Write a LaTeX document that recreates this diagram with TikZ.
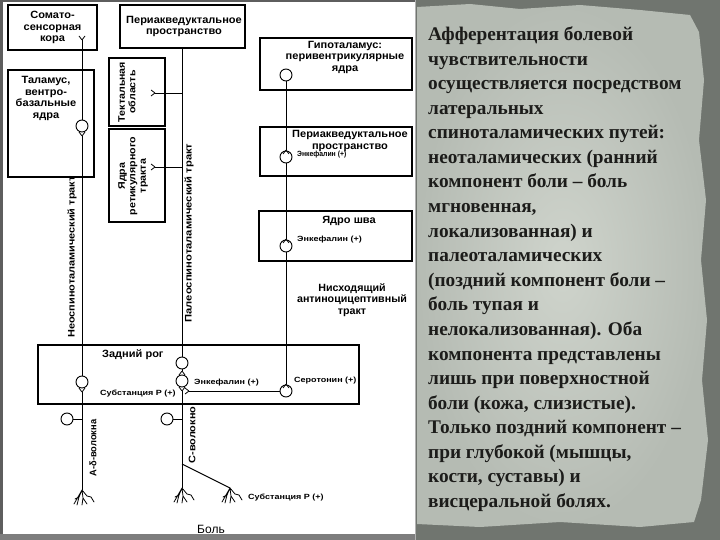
\documentclass[tikz,border=0pt]{standalone}
\usepackage{fontspec}
\setmainfont{Liberation Serif}
\newfontfamily\dia{Liberation Sans}
\definecolor{bgdark}{HTML}{70756F}
\definecolor{paperin}{HTML}{CFD4CC}
\definecolor{paperout}{HTML}{B5BBB3}
\definecolor{ink}{HTML}{1C1C1A}
\definecolor{frame}{HTML}{5E5E5E}
\tikzset{
  box/.style={draw, line width=1.3pt, inner sep=0pt},
  boxtxt/.style={font=\dia\bfseries\fontsize{10.5}{11.5}\selectfont, align=center, inner sep=0pt, xscale=1.05},
  rottxt/.style={font=\dia\bfseries\fontsize{9.5}{10.5}\selectfont, align=center, inner sep=0pt, rotate=90},
  lbl/.style={font=\dia\bfseries\fontsize{7.5}{8}\selectfont, inner sep=0pt, anchor=west, xscale=1.2},
  cell/.style={draw, circle, minimum size=12pt, inner sep=0pt, line width=0.9pt, fill=white},
  fib/.style={line width=0.9pt},
  para/.style={font=\bfseries\fontsize{19.3}{22}\selectfont, text=ink, inner sep=0pt, anchor=base west},
  forkup/.pic={\draw[line width=0.8pt] (0,0) -- (-3,-4) (0,0) -- (3,-4);},
  forkdown/.pic={\draw[line width=0.8pt] (0,0) -- (-3,4) (0,0) -- (3,4);},
  forkleft/.pic={\draw[line width=0.8pt] (0,0) -- (-4,-3) (0,0) -- (-4,3);},
  ending/.pic={\draw[line width=0.8pt, line cap=round]
     (0,0) -- (-8,14) (0,0) -- (-3,7) -- (-5,15) (0,0) -- (1,8) -- (0,15)
     (1,8) -- (5,14) (0,0) -- (5,6) -- (9,7) -- (12,12) (-3,7) -- (-7,9);}
}
\begin{document}
\begin{tikzpicture}[x=1pt,y=-1pt]
\useasboundingbox (0,0) rectangle (720,540);
% ---------- right panel background ----------
\fill[bgdark] (415,0) rectangle (720,540);
\shade[inner color=paperin, outer color=paperout]
  (417,7) -- (470,4) -- (520,9) -- (580,5) -- (640,10) -- (690,15) -- (699,32) -- (704,80)
  -- (699,140) -- (706,200) -- (701,260) -- (707,320) -- (702,380) -- (708,440)
  -- (701,500) -- (694,522) -- (640,527) -- (560,522) -- (480,527) -- (417,524) -- cycle;
% ---------- left panel ----------
\fill[white] (3,2) rectangle (415,534);
\fill[frame] (0,0) rectangle (3,540);
\fill[frame] (0,0) rectangle (415,2);
\fill[frame!80] (0,534) rectangle (415,540);
\draw[gray!60, line width=0.8pt] (415.5,0) -- (415.5,540);
% ---------- boxes ----------
\node[box, minimum width=89pt, minimum height=45pt] (cortex) at (52.5,27.5) {};
\node[boxtxt] (cortext) at (52.5,27.5) {Сомато-\\сенсорная\\кора};
\node[box, minimum width=86pt, minimum height=107pt] (thal) at (51,123.5) {};
\node[boxtxt] (thaltext) at (46,98.5) {Таламус,\\вентро-\\базальные\\ядра};
\node[box, minimum width=125pt, minimum height=43pt] (pagtop) at (182.5,26.5) {};
\node[boxtxt] (pagtoptext) at (184,26.5) {Периакведуктальное\\пространство};
\node[box, minimum width=56pt, minimum height=68pt] (tect) at (137,92) {};
\node[rottxt, xscale=1.12] (tecttext) at (127,92) {Тектальная\\область};
\node[box, minimum width=56pt, minimum height=93pt] (ret) at (137,175.5) {};
\node[rottxt, xscale=1.12] (rettext) at (133,176) {Ядра\\ретикулярного\\тракта};
\node[box, minimum width=152pt, minimum height=52pt] (hyp) at (336,64) {};
\node[boxtxt] (hyptext) at (345,57) {Гипоталамус:\\перивентрикулярные\\ядра};
\node[box, minimum width=152pt, minimum height=49pt] (pag) at (336,151.5) {};
\node[boxtxt] (pagtext) at (350,141) {Периакведуктальное\\пространство};
\node[box, minimum width=153pt, minimum height=50pt] (raphe) at (335.5,236) {};
\node[boxtxt] (raphetext) at (349,221) {Ядро шва};
\node[box, minimum width=321pt, minimum height=59pt] (horn) at (198.5,374.5) {};
\node[boxtxt, anchor=west] (horntext) at (102,355) {Задний рог};
% ---------- tract labels ----------
\node[rottxt, xscale=1.15] (neolbl) at (72,257) {Неоспиноталамический тракт};
\node[rottxt, xscale=1.18] (paleolbl) at (189,233) {Палеоспиноталамический тракт};
\node[rottxt, xscale=0.98] (adlbl) at (93,448) {А-δ-волокна};
\node[rottxt, xscale=1.15] (clbl) at (192,435) {С-волокно};
\node[boxtxt, xscale=0.97] (desc) at (352,300) {Нисходящий\\антиноцицептивный\\тракт};
% ---------- neospinothalamic path ----------
\coordinate (ycort) at (82,40);
\node[cell] (thc) at (82,126) {};
\coordinate (thf) at (82,136);
\node[cell] (dha) at (82,382) {};
\draw[fib] (thc.north) -- (ycort);
\pic at (ycort) {forkup};
\draw[fib] (dha.north) -- (thf);
\pic at (thf) {forkup};
\coordinate (adf) at (82,392);
\coordinate (adend) at (82,490);
\draw[fib] (adf) -- (adend);
\pic at (adf) {forkup};
\pic at (adend) {ending};
\node[cell] (adg) at (67,419) {};
\draw[fib] (adg.east) -- (adg.east -| adend);
% ---------- paleospinothalamic path ----------
\node[cell] (pc1) at (182,363) {};
\node[cell] (pc2) at (182,381) {};
\draw[fib] (pc1.north) -- (pc1.north |- pagtop.south);
\coordinate (pcf) at (182,371);
\draw[fib] (pc1.south) -- (pcf);
\pic at (pcf) {forkdown};
\coordinate (tf) at (155,93);
\coordinate (rf) at (155,167);
\draw[fib] (tf) -- (tf -| pc1);
\pic at (tf) {forkleft};
\draw[fib] (rf) -- (rf -| pc1);
\pic at (rf) {forkleft};
% C fibre
\coordinate (cf) at (182,391);
\coordinate (cend) at (182,488);
\coordinate (cbr) at (182,464);
\coordinate (cend2) at (230,488);
\draw[fib] (cf) -- (cend);
\pic at (cf) {forkup};
\draw[fib] (cbr) -- (cend2);
\pic at (cend) {ending};
\pic at (cend2) {ending};
\node[cell] (cg) at (167,419) {};
\draw[fib] (cg.east) -- (cg.east -| cend);
% ---------- descending path ----------
\node[cell] (hypc) at (286,75) {};
\node[cell] (pagc) at (286,157) {};
\node[cell] (raphec) at (286,246) {};
\node[cell] (serc) at (286,391) {};
\coordinate (pagf) at (286,150);
\coordinate (raphef) at (286,239);
\coordinate (serf) at (286,384);
\draw[fib] (hypc.south) -- (pagf);
\pic at (pagf) {forkdown};
\draw[fib] (pagc.south) -- (raphef);
\pic at (raphef) {forkdown};
\draw[fib] (raphec.south) -- (serf);
\pic at (serf) {forkdown};
\coordinate (sf) at (189,391);
\draw[fib] (serc.west) -- (sf);
\pic at (sf) {forkleft};
% ---------- small labels ----------
\node[lbl, xscale=0.76] (enk1) at (297,155) {Энкефалин (+)};
\node[lbl] (enk2) at (297,240) {Энкефалин (+)};
\node[lbl] (sero) at (294,381) {Серотонин (+)};
\node[lbl] (enk3) at (194,383) {Энкефалин (+)};
\node[lbl] (subp1) at (100,394) {Субстанция Р (+)};
\node[lbl] (subp2) at (248,498) {Субстанция Р (+)};
\node[font=\dia\fontsize{12}{13}\selectfont, inner sep=0pt] (pain) at (211,529) {Боль};
% ---------- right text ----------
\node[para] (t1) at (428,40.5) {Афферентация болевой};
\node[para] (t2) at (428,65.1) {чувствительности};
\node[para] (t3) at (428,89.7) {осуществляется посредством};
\node[para] (t4) at (428,114.2) {латеральных};
\node[para] (t5) at (428,138.8) {спиноталамических путей:};
\node[para] (t6) at (428,163.4) {неоталамических (ранний};
\node[para] (t7) at (428,188.0) {компонент боли – боль};
\node[para] (t8) at (428,212.6) {мгновенная,};
\node[para] (t9) at (428,237.1) {локализованная) и};
\node[para] (t10) at (428,261.7) {палеоталамических};
\node[para] (t11) at (428,286.3) {(поздний компонент боли –};
\node[para] (t12) at (428,310.9) {боль тупая и};
\node[para] (t13) at (428,335.5) {нелокализованная). Оба};
\node[para] (t14) at (428,360.0) {компонента представлены};
\node[para] (t15) at (428,384.6) {лишь при поверхностной};
\node[para] (t16) at (428,409.2) {боли (кожа, слизистые).};
\node[para] (t17) at (428,433.8) {Только поздний компонент –};
\node[para] (t18) at (428,458.4) {при глубокой (мышцы,};
\node[para] (t19) at (428,482.9) {кости, суставы) и};
\node[para] (t20) at (428,507.5) {висцеральной болях.};
\end{tikzpicture}
\end{document}
